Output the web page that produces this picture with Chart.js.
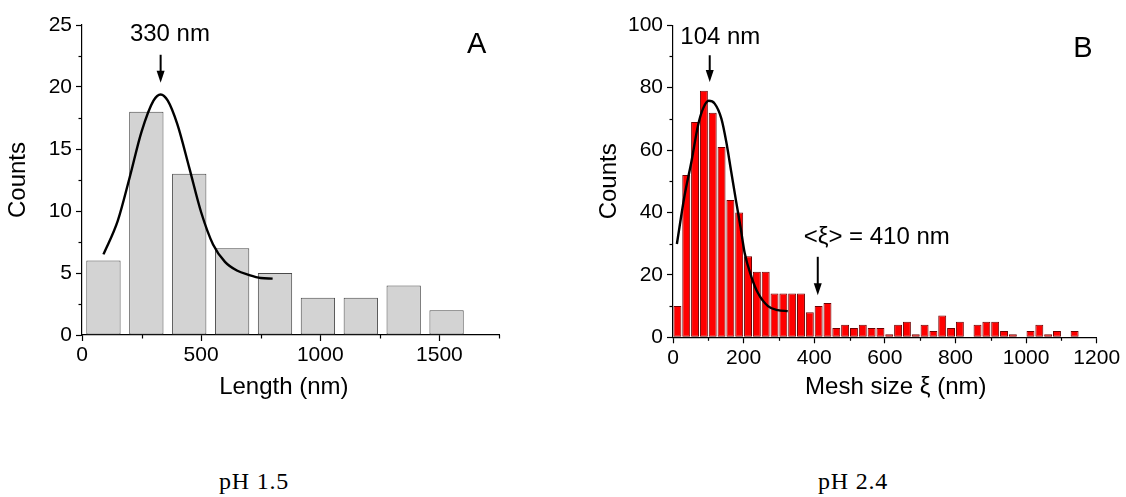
<!DOCTYPE html>
<html><head><meta charset="utf-8">
<script src="https://cdn.jsdelivr.net/npm/chart.js@4/dist/chart.umd.min.js"></script>
<style>
html,body{margin:0;padding:0;background:#fff;width:1126px;height:497px;overflow:hidden;position:relative}
.box{position:absolute;top:0;height:420px}
#wa{left:0;width:540px}
#wb{left:591px;width:535px}
.ph{position:absolute;font-family:"Liberation Serif","Times New Roman",serif;font-size:24px;letter-spacing:0.8px;line-height:24px;top:469px;transform:translateX(-50%);white-space:nowrap;color:#000}
</style></head><body>
<div class="box" id="wa"><canvas id="ca"></canvas></div>
<div class="box" id="wb"><canvas id="cb"></canvas></div>
<div class="ph" style="left:254px">pH 1.5</div>
<div class="ph" style="left:853px">pH 2.4</div>
<script>
// ---------- Panel A data (pH 1.5) ----------
const lengthBinCenters = [90, 270, 450, 630, 810, 990, 1170, 1350, 1530];
const lengthCounts     = [6, 18, 13, 7, 5, 3, 3, 4, 2];
const lengthFitX = [90, 150, 200, 250, 300, 330, 360, 400, 450, 500, 550, 600, 650, 700, 750, 800];
const lengthFitY = [6.5, 9.2, 12.7, 16.4, 18.9, 19.4, 18.9, 17.0, 13.5, 9.9, 7.3, 5.9, 5.2, 4.85, 4.6, 4.55];
const lengthXTicks = [0, 500, 1000, 1500];
const lengthXMinor = [250, 750, 1250, 1750];
const lengthYTicks = [0, 5, 10, 15, 20, 25];
const lengthYMinor = [2.5, 7.5, 12.5, 17.5, 22.5];

// ---------- Panel B data (pH 2.4) ----------
const meshBinCenters = [12.5, 37.5, 62.5, 87.5, 112.5, 137.5, 162.5, 187.5, 212.5, 237.5,
  262.5, 287.5, 312.5, 337.5, 362.5, 387.5, 412.5, 437.5, 462.5, 487.5,
  512.5, 537.5, 562.5, 587.5, 612.5, 637.5, 662.5, 687.5, 712.5, 737.5,
  762.5, 787.5, 812.5, 837.5, 862.5, 887.5, 912.5, 937.5, 962.5, 987.5,
  1012.5, 1037.5, 1062.5, 1087.5, 1112.5, 1137.5];
const meshCounts = [10, 52, 69, 79, 72, 61, 44, 40, 26, 21,
  21, 14, 14, 14, 14, 8, 10, 11, 3, 4,
  3, 4, 3, 3, 1, 4, 5, 1, 4, 2,
  7, 3, 5, 0, 4, 5, 5, 2, 1, 0,
  2, 4, 1, 2, 0, 2];
const meshFitX = [11, 33, 52, 71, 85, 101, 118, 137, 151, 165, 179, 191, 203, 222, 241, 269, 297, 325];
const meshFitY = [29.9, 45.6, 56.2, 68, 73.3, 75.8, 74.9, 70.1, 62.6, 53, 43.4, 35.5, 27, 19.4, 14.1, 10, 8.7, 8.4];
const meshXTicks = [0, 200, 400, 600, 800, 1000, 1200];
const meshXMinor = [100, 300, 500, 700, 900, 1100];
const meshYTicks = [0, 20, 40, 60, 80, 100];
const meshYMinor = [10, 30, 50, 70, 90];

const FONT = '"Liberation Sans", Arial, sans-serif';

const extraTicks = {
  id: 'extraTicks',
  afterDraw(chart, args, opts) {
    const ctx = chart.ctx, xs = chart.scales.x, ys = chart.scales.y;
    ctx.save();
    ctx.strokeStyle = '#000';
    ctx.lineWidth = 1.2;
    for (const v of opts.x || []) {
      const p = Math.round(xs.getPixelForValue(v)) + 0.5;
      ctx.beginPath(); ctx.moveTo(p, ys.bottom); ctx.lineTo(p, ys.bottom + 3.5); ctx.stroke();
    }
    for (const v of opts.y || []) {
      const p = Math.round(ys.getPixelForValue(v)) + 0.5;
      ctx.beginPath(); ctx.moveTo(xs.left, p); ctx.lineTo(xs.left - 3.5, p); ctx.stroke();
    }
    ctx.restore();
  }
};

const annot = {
  id: 'annot',
  afterDraw(chart, args, opts) {
    const ctx = chart.ctx, xs = chart.scales.x, ys = chart.scales.y;
    ctx.save();
    ctx.fillStyle = '#000';
    ctx.strokeStyle = '#000';
    for (const t of opts.texts || []) {
      ctx.font = t.size + 'px ' + FONT;
      ctx.textAlign = 'center';
      ctx.textBaseline = 'middle';
      ctx.fillText(t.text, xs.getPixelForValue(t.x), ys.getPixelForValue(t.y));
    }
    for (const a of opts.arrows || []) {
      const px = xs.getPixelForValue(a.x);
      const p1 = ys.getPixelForValue(a.y1), p2 = ys.getPixelForValue(a.y2);
      ctx.lineWidth = 2;
      ctx.beginPath(); ctx.moveTo(px, p1); ctx.lineTo(px, p2 - 8); ctx.stroke();
      ctx.beginPath();
      ctx.moveTo(px - 4, p2 - 12); ctx.lineTo(px + 4, p2 - 12); ctx.lineTo(px, p2); ctx.closePath();
      ctx.fill();
    }
    ctx.restore();
  }
};

function makeChart(id, o) {
  return new Chart(document.getElementById(id), {
    type: 'bar',
    data: {
      datasets: [
        {
          type: 'line',
          data: o.fitX.map((x, i) => ({x, y: o.fitY[i]})),
          borderColor: '#000', borderWidth: 2.4, pointRadius: 0,
          tension: 0.4, cubicInterpolationMode: 'monotone', fill: false, order: 0
        },
        {
          type: 'bar',
          data: o.centers.map((x, i) => ({x, y: o.counts[i]})),
          backgroundColor: o.fill, borderColor: o.stroke, borderWidth: 1,
          borderSkipped: false,
          categoryPercentage: o.catPct, barPercentage: o.barPct, order: 1
        }
      ]
    },
    options: {
      responsive: true, maintainAspectRatio: false, animation: false,
      layout: { padding: { top: o.padTop, right: o.padRight, left: 0, bottom: 0 } },
      plugins: {
        legend: { display: false }, tooltip: { enabled: false },
        extraTicks: { x: o.xMinor, y: o.yMinor },
        annot: { texts: o.texts, arrows: o.arrows }
      },
      scales: {
        x: {
          type: 'linear', min: 0, max: o.xMax, offset: false,
          afterBuildTicks: s => { s.ticks = o.xTicks.map(v => ({value: v})); },
          afterFit: s => { s.height = o.xHeight; },
          border: { display: true, color: '#000', width: 1.2 },
          grid: { display: true, offset: false, drawOnChartArea: false, drawTicks: true, tickLength: 6, tickColor: '#000', tickWidth: 1.2 },
          ticks: { font: { family: FONT, size: 21 }, color: '#000', padding: 2, maxRotation: 0, autoSkip: false, callback: v => String(v) },
          title: { display: false, text: o.xTitle }
        },
        y: {
          type: 'linear', min: 0, max: o.yMax,
          afterBuildTicks: s => { s.ticks = o.yTicks.map(v => ({value: v})); },
          afterFit: s => { s.width = 82; },
          border: { display: true, color: '#000', width: 1.2 },
          grid: { display: true, drawOnChartArea: false, drawTicks: true, tickLength: 6, tickColor: '#000', tickWidth: 1.2 },
          ticks: { font: { family: FONT, size: 21 }, color: '#000', padding: 4, callback: v => String(v) },
          title: { display: true, text: 'Counts', font: { family: FONT, size: 24 }, color: '#000', padding: { top: 4, bottom: 0 } }
        }
      }
    },
    plugins: [extraTicks, annot]
  });
}

makeChart('ca', {
  centers: lengthBinCenters, counts: lengthCounts, fitX: lengthFitX, fitY: lengthFitY,
  xTicks: lengthXTicks, xMinor: lengthXMinor, yTicks: lengthYTicks, yMinor: lengthYMinor,
  xMax: 1750, yMax: 25, xTitle: 'Length (nm)',
  fill: '#d3d3d3', stroke: '#4a4a4a', catPct: 0.8, barPct: 1,
  padTop: 25, padRight: 41, xHeight: 85,
  texts: [ { text: '330 nm', x: 369, y: 24.25, size: 24 }, { text: 'A', x: 1656, y: 23.4, size: 29 },
           { text: 'Length (nm)', x: 847, y: -4.25, size: 24 } ],
  arrows: [ { x: 330, y1: 22.6, y2: 20.35 } ]
});

makeChart('cb', {
  centers: meshBinCenters, counts: meshCounts, fitX: meshFitX, fitY: meshFitY,
  xTicks: meshXTicks, xMinor: meshXMinor, yTicks: meshYTicks, yMinor: meshYMinor,
  xMax: 1200, yMax: 100, xTitle: 'Mesh size ξ (nm)',
  fill: '#ff0000', stroke: '#6e0000', catPct: 1, barPct: 0.9,
  padTop: 25.3, padRight: 29.3, xHeight: 82.7,
  texts: [ { text: '104 nm', x: 134, y: 96, size: 24 }, { text: 'B', x: 1161, y: 92.5, size: 29 },
           { text: '<ξ> = 410 nm', x: 577, y: 32.1, size: 24 },
           { text: 'Mesh size ξ (nm)', x: 631, y: -16.2, size: 24 } ],
  arrows: [ { x: 104, y1: 90.4, y2: 81.8 }, { x: 410, y1: 25.8, y2: 13.5 } ]
});
</script>
</body></html>
